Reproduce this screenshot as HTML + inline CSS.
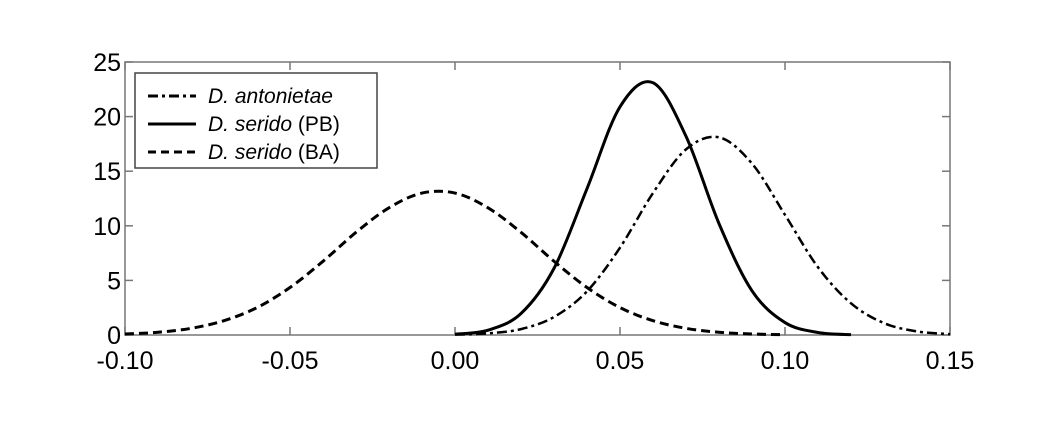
<!DOCTYPE html>
<html><head><meta charset="utf-8"><style>
body{margin:0;background:#fff}
text{font-family:"Liberation Sans",sans-serif;fill:#000}
</style></head><body>
<svg id="chart" width="1051" height="427" xmlns="http://www.w3.org/2000/svg"></svg>
<script>
const xTicks=[-0.10,-0.05,0.00,0.05,0.10,0.15];
const xTickLabels=["-0.10","-0.05","0.00","0.05","0.10","0.15"];
const yTicks=[0,5,10,15,20,25];
const baX=[-0.10,-0.09,-0.08,-0.07,-0.06,-0.05,-0.04,-0.03,-0.02,-0.01,0.00,0.01,0.02,0.03,0.04,0.05,0.06,0.07,0.08,0.09,0.10];
const baY=[0.09,0.25,0.61,1.31,2.51,4.35,6.75,9.4,11.65,13.0,13.0,11.65,9.4,6.75,4.35,2.51,1.31,0.61,0.25,0.09,0.03];
const pbX=[0.00,0.01,0.02,0.03,0.04,0.05,0.06,0.07,0.08,0.09,0.10,0.11,0.12];
const pbY=[0.07,0.44,1.97,6.1,13.4,20.9,23.1,18.2,10.2,4.05,1.14,0.23,0.03];
const anX=[0.00,0.01,0.02,0.03,0.04,0.05,0.06,0.07,0.08,0.09,0.10,0.11,0.12,0.13,0.14,0.15];
const anY=[0.03,0.15,0.54,1.65,4.0,8.0,13.0,17.0,18.1,15.7,11.0,6.2,2.9,1.09,0.33,0.08];

const L=125,R=950,T=62,B=335;
const sx=v=>L+(v-(-0.10))/(0.25)*(R-L);
const sy=v=>B-v/25*(B-T);
const svg=document.getElementById('chart');
const NS='http://www.w3.org/2000/svg';
function mk(tag,attrs){const e=document.createElementNS(NS,tag);for(const k in attrs)e.setAttribute(k,attrs[k]);svg.appendChild(e);return e;}
function smooth(xs,ys){
  const p=xs.map((x,i)=>[sx(x),sy(ys[i])]);
  let d='M'+p[0][0]+','+p[0][1];
  for(let i=0;i<p.length-1;i++){
    const p0=p[i-1]||p[i],p1=p[i],p2=p[i+1],p3=p[i+2]||p2;
    const c1=[p1[0]+(p2[0]-p0[0])/6,p1[1]+(p2[1]-p0[1])/6];
    const c2=[p2[0]-(p3[0]-p1[0])/6,p2[1]-(p3[1]-p1[1])/6];
    d+=' C'+c1+' '+c2+' '+p2;
  }
  return d;
}
let e=mk('rect',{x:L,y:T,width:R-L,height:B-T,fill:'none',stroke:'#777','stroke-width':1.5});

xTicks.forEach((v,i)=>{
  let t=mk('line',{x1:sx(v),x2:sx(v),y1:B,y2:B-8,stroke:'#777','stroke-width':1.5});
  
  let t2=mk('line',{x1:sx(v),x2:sx(v),y1:T,y2:T+8,stroke:'#777','stroke-width':1.5});
  
  let l=mk('text',{x:sx(v),y:B+34,'text-anchor':'middle','font-size':25});
  l.textContent=xTickLabels[i];
  
});
yTicks.forEach(v=>{
  let t=mk('line',{x1:L,x2:L+8,y1:sy(v),y2:sy(v),stroke:'#777','stroke-width':1.5});
  
  let t2=mk('line',{x1:R,x2:R-8,y1:sy(v),y2:sy(v),stroke:'#777','stroke-width':1.5});
  
  let l=mk('text',{x:L-4,y:sy(v)+9,'text-anchor':'end','font-size':25});
  l.textContent=String(v);
  
});
let s1=mk('path',{d:smooth(baX,baY),fill:'none',stroke:'#000','stroke-width':3,'stroke-dasharray':'9,5'});

let s2=mk('path',{d:smooth(pbX,pbY),fill:'none',stroke:'#000','stroke-width':3});

let s3=mk('path',{d:smooth(anX,anY),fill:'none',stroke:'#000','stroke-width':2.5,'stroke-dasharray':'10,4,3,4'});

let lg=mk('rect',{x:135,y:73,width:242,height:95,fill:'#fff',stroke:'#444','stroke-width':1.5});

const leg=[["D. antonietae","",'10,4,3,4'],["D. serido"," (PB)",''],["D. serido"," (BA)",'8,5']];
leg.forEach((g,i)=>{
  const y=96+i*28;
  let ln=mk('line',{x1:148,x2:196,y1:y,y2:y,stroke:'#000','stroke-width':3,'stroke-dasharray':g[2]||'none'});
  
  let t=mk('text',{x:208,y:y+7,'font-size':21});
  t.innerHTML='<tspan font-style="italic">'+g[0]+'</tspan>'+g[1];
  
});
</script>
</body></html>
